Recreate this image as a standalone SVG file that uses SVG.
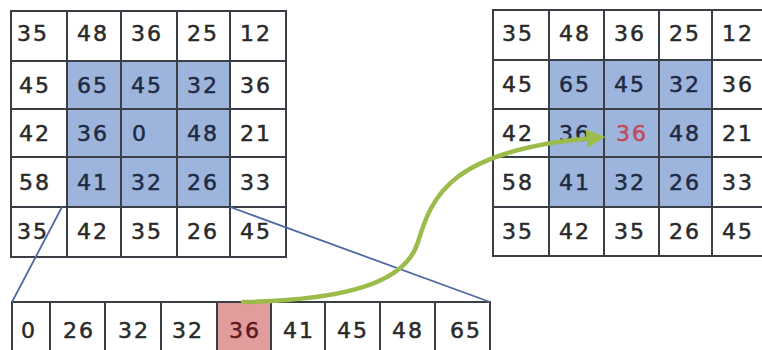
<svg xmlns="http://www.w3.org/2000/svg" width="762" height="350" viewBox="0 0 762 350">
<style>
.bg{fill:#ffffff}
.blue{fill:#9db5dc}
.red{fill:#e39c9c}
.grid{fill:none;stroke:#3a3f46;stroke-width:2}
.t{font-family:"DejaVu Sans",sans-serif;font-size:22px;letter-spacing:2px;fill:#2a2a2a;stroke:#2a2a2a;stroke-width:0.5}
.tb{fill:#1e2a44;stroke:#1e2a44}
.tr{fill:#c04a5a;stroke:#c04a5a}
.trd{fill:#5a1a22;stroke:#5a1a22}
.blink{fill:none;stroke:#4f6aa3;stroke-width:1.8}
.green{fill:none;stroke:#9bbb4a;stroke-width:4.5;stroke-linecap:round}
</style>
<defs>
<marker id="ah" viewBox="0 0 10 10" refX="4" refY="5" markerWidth="4.2" markerHeight="4.2" orient="auto" markerUnits="strokeWidth">
<path d="M0,0 L10,5 L0,10 z" fill="#9bbb4a"/>
</marker>
</defs>
<rect class="bg" width="762" height="350"/>

<g id="input-grid">
<rect class="blue" x="67" y="61" width="163" height="146"/>
<path class="grid" d="M11,11H286V257H11Z M67,11V257 M121,11V257 M177,11V257 M230,11V257 M11,61H286 M11,109H286 M11,157H286 M11,207H286"/>
<g class="t">
<text x="17" y="41">35</text><text x="77" y="41">48</text><text x="131" y="41">36</text><text x="187" y="41">25</text><text x="240" y="41">12</text>
<text x="19" y="93">45</text><text class="tb" x="77" y="93">65</text><text class="tb" x="131" y="93">45</text><text class="tb" x="187" y="93">32</text><text x="240" y="93">36</text>
<text x="19" y="141">42</text><text class="tb" x="77" y="141">36</text><text class="tb" x="132" y="141">0</text><text class="tb" x="187" y="141">48</text><text x="240" y="141">21</text>
<text x="19" y="190">58</text><text class="tb" x="77" y="190">41</text><text class="tb" x="131" y="190">32</text><text class="tb" x="187" y="190">26</text><text x="240" y="190">33</text>
<text x="17" y="239">35</text><text x="77" y="239">42</text><text x="131" y="239">35</text><text x="187" y="239">26</text><text x="240" y="239">45</text>
</g>
</g>

<g id="output-grid">
<rect class="blue" x="549" y="60" width="163" height="147"/>
<path class="grid" d="M493,10H768V256H493Z M549,10V256 M604,10V256 M659,10V256 M712,10V256 M493,60H768 M493,109H768 M493,157H768 M493,207H768"/>
<g class="t">
<text x="502" y="41">35</text><text x="559" y="41">48</text><text x="614" y="41">36</text><text x="669" y="41">25</text><text x="722" y="41">12</text>
<text x="502" y="92">45</text><text class="tb" x="559" y="92">65</text><text class="tb" x="614" y="92">45</text><text class="tb" x="669" y="92">32</text><text x="722" y="92">36</text>
<text x="502" y="141">42</text><text class="tb" x="559" y="141">36</text><text class="tr" x="616" y="141">36</text><text class="tb" x="669" y="141">48</text><text x="722" y="141">21</text>
<text x="502" y="190">58</text><text class="tb" x="559" y="190">41</text><text class="tb" x="614" y="190">32</text><text class="tb" x="669" y="190">26</text><text x="722" y="190">33</text>
<text x="502" y="239">35</text><text x="559" y="239">42</text><text x="614" y="239">35</text><text x="669" y="239">26</text><text x="722" y="239">45</text>
</g>
</g>

<g id="sorted-row">
<rect class="red" x="217" y="302" width="54" height="58"/>
<path class="grid" d="M12,360V302H490V360 M50,302V360 M105,302V360 M161,302V360 M217,302V360 M271,302V360 M325,302V360 M380,302V360 M435,302V360"/>
<g class="t" text-anchor="middle">
<text x="29" y="338">0</text><text x="79" y="338">26</text><text x="134" y="338">32</text><text x="188" y="338">32</text><text class="trd" x="245" y="338">36</text><text x="299" y="338">41</text><text x="353" y="338">45</text><text x="408" y="338">48</text><text x="466" y="338">65</text>
</g>
</g>

<g id="connectors">
<path class="blink" d="M62,207 L12,302"/>
<path class="blink" d="M230,207 L490,302"/>
<path class="green" d="M243,302 C340,300 405,285 418,242 C432,196 450,150 594,138" marker-end="url(#ah)"/>
</g>
</svg>
